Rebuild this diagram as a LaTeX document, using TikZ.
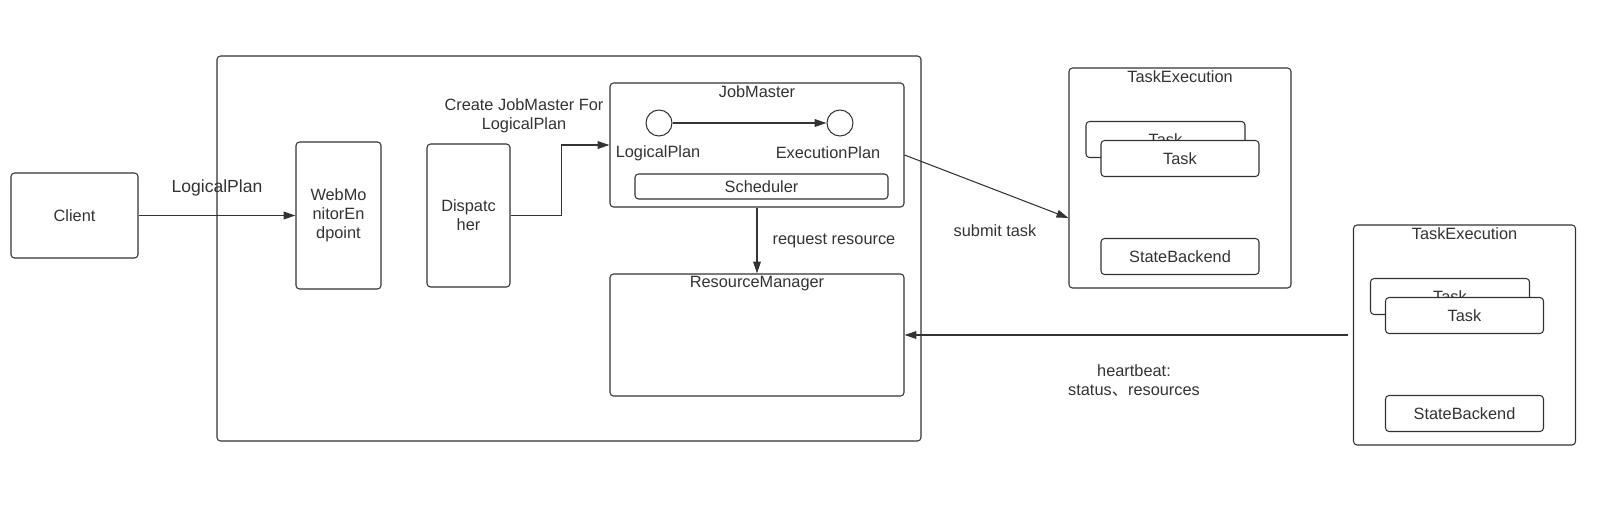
\documentclass[tikz,border=0pt]{standalone}
\usepackage{fontspec}
\setmainfont{Liberation Sans}
\newfontfamily\cjk{Noto Sans CJK SC}
\usetikzlibrary{positioning}
\usetikzlibrary{calc}
\usetikzlibrary{arrows.meta}
\definecolor{ink}{RGB}{51,51,51}

\begin{document}
\begin{tikzpicture}[x=0.02cm, y=-0.02cm, line width=0.6pt, color=ink,
    font=\fontsize{9.3}{10.8}\selectfont,
    box/.style 2 args={draw=ink, rounded corners=2pt, fill=white, inner sep=0pt,
        minimum width=#1*0.02cm, minimum height=#2*0.02cm},
    state/.style={draw=ink, circle, fill=white, inner sep=0pt, minimum size=26*0.02cm},
    flow/.style={draw=ink, -{Triangle[length=6.8pt,width=4.4pt]}}]
    \useasboundingbox (0,0) rectangle (1600,518);

    \node[box={704}{385}] (outer) at (569,248.5) {};
    \node[box={127}{85}] (client) at (74.5,215.5) {Client};
    \node[box={85}{147}, align=center] (web) at (338.5,215.5) {WebMo\\nitorEn\\dpoint};
    \node[box={83}{143}, align=center] (disp) at (468.5,215.5) {Dispatc\\her};

    \node[box={294}{124}] (jm) at (757,145) {};
    \node[below=1.5pt of jm.north, inner sep=0pt] (jmtitle) {JobMaster};
    \node[state] (lp) at (659,123) {};
    \node[state] (ep) at (840,123) {};
    \node (lplabel) at (658,153) {LogicalPlan};
    \node (eplabel) at (828,153) {ExecutionPlan};
    \node[box={253}{25}] (sched) at (761.5,186.5) {Scheduler};

    \node[box={294}{122}] (rm) at (757,335) {};
    \node[below=1.5pt of rm.north, inner sep=0pt] (rmtitle) {ResourceManager};

    \foreach \n/\x/\y in {1/1180/178, 2/1464.5/335} {
        \node[box={222}{220}] (te\n) at (\x,\y) {};
        \node[below=1.5pt of te\n.north, inner sep=0pt] (tetitle\n) {TaskExecution};
        \node[box={159}{36}] (taskb\n) at (\x-14.5,\y-38.5) {Task};
        \node[box={158}{36}] (task\n) at (\x,\y-19.5) {Task};
        \node[box={158}{36}] (sb\n) at (\x,\y+78.5) {StateBackend};
    }

    \draw[flow] (client) -- node[above=0.25cm, font=\fontsize{10}{12}\selectfont] (lpin) {LogicalPlan} (web);
    \draw[flow] (disp.east) -- ++(51,0) |- (jm.west);
    \node[align=center] (create) at (524,115.5) {Create JobMaster For\\LogicalPlan};
    \draw[flow] (lp) -- (ep);
    \draw[flow] (jm.south) -- (rm.north);
    \node (reqlabel) at (834,241) {request resource};
    \draw[flow] (jm.east |- 0,155) -- (te1.west |- 0,218);
    \node (submitlabel) at (995,231) {submit task};
    \draw[flow, shorten <=0.1cm] (te2.west) -- (rm.east);
    \node[align=center] (hblabel) at (1134,380.5) {heartbeat:\\status{\cjk 、}resources};
\end{tikzpicture}
\end{document}
